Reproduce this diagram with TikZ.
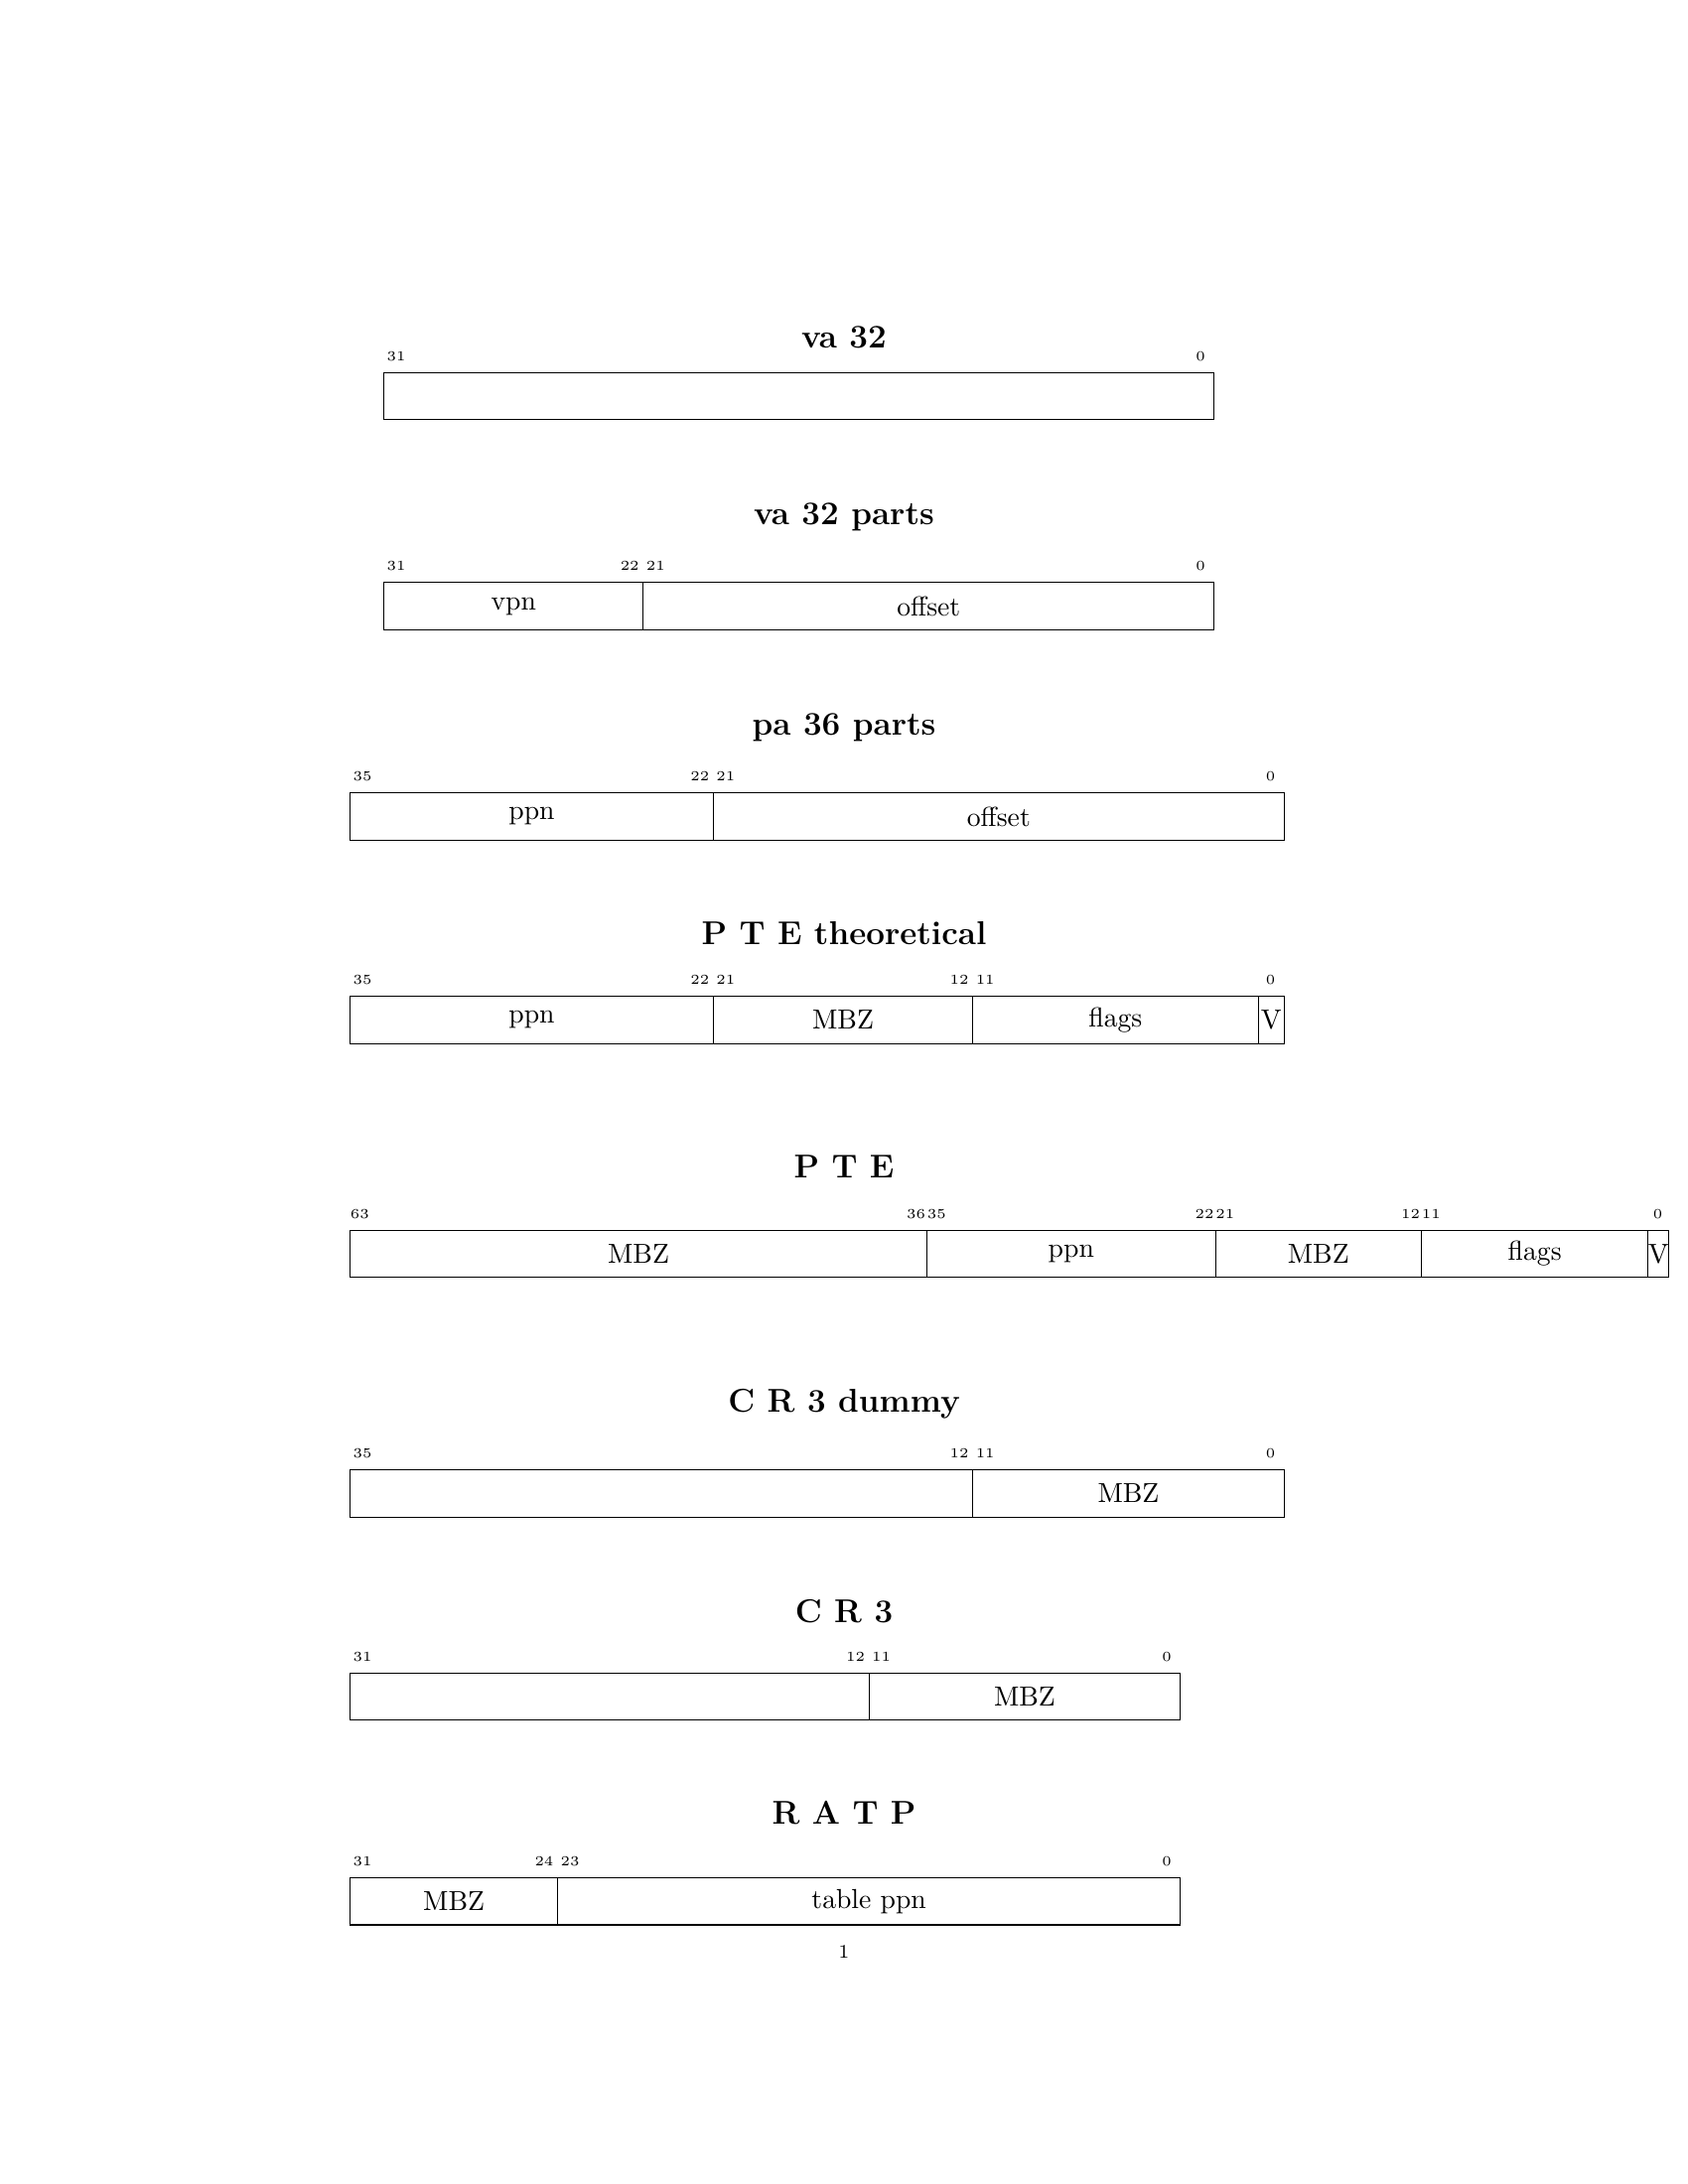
\documentclass[tikz,border=0pt]{standalone}
\usepackage{tikz}
\usetikzlibrary{positioning}
\newcommand{\px}{0.36135pt}
\tikzset{
  field/.style={draw, line width=0.4pt, inner sep=0pt, anchor=north west, minimum height=17.24pt, font=\normalsize},
  bitno/.style={anchor=base, inner sep=0pt, font=\tiny},
  regtitle/.style={anchor=base, inner sep=0pt, font=\large\bfseries},
}
% one register: name, left x, top y, top bit, bit width, fields hi/lo/text, labelled bits
\newcommand{\regrow}[7]{%
  \foreach \hi/\lo/\txt [count=\k] in {#6}{
    \node[field, minimum width={(\hi-\lo+1)*#5*\px}] (#1f\k) at ({#2+(#4-\hi)*#5},#3) {\txt};
  }
  \foreach \b in {#7}{
    \node[bitno] (#1b\b) at ({#2+(#4-\b+0.5)*#5},#3-11.5) {\b};
  }
}
\begin{document}
\begin{tikzpicture}[x=0.36135pt, y=-0.36135pt]
    \useasboundingbox (0,0) rectangle (1700,2200);
    \node[regtitle] (va) at (850,350.7) {va 32};
    \regrow{va}{386}{374.5}{31}{26.13}{31/0/{}}{31,0}
    \node[regtitle] (vaparts) at (850,528.8) {va 32 parts};
    \regrow{vap}{386}{586.3}{31}{26.13}{31/22/vpn, 21/0/offset}{31,22,21,0}
    \node[regtitle] (paparts) at (850,740.6) {pa 36 parts};
    \regrow{pap}{352}{798.1}{35}{26.13}{35/22/ppn, 21/0/offset}{35,22,21,0}
    \node[regtitle] (ptetheo) at (850,951) {P T E theoretical};
    \regrow{ptt}{352}{1002.9}{35}{26.13}{35/22/ppn, 21/12/MBZ, 11/1/flags, 0/0/V}{35,22,21,12,11,0}
    \node[regtitle] (pte) at (850,1186.6) {P T E};
    \regrow{pte}{352}{1238.5}{63}{20.75}{63/36/MBZ, 35/22/ppn, 21/12/MBZ, 11/1/flags, 0/0/V}{63,36,35,22,21,12,11,0}
    \node[regtitle] (crdummy) at (850,1422.2) {C R 3 dummy};
    \regrow{crd}{352}{1479.8}{35}{26.13}{35/12/{}, 11/0/MBZ}{35,12,11,0}
    \node[regtitle] (cr) at (850,1634) {C R 3};
    \regrow{cr}{352}{1684.5}{31}{26.13}{31/12/{}, 11/0/MBZ}{31,12,11,0}
    \node[regtitle] (ratp) at (850,1837.4) {R A T P};
    \regrow{ratp}{352}{1890.7}{31}{26.13}{31/24/MBZ, 23/0/table ppn}{31,24,23,0}
    \node[anchor=base, inner sep=0pt, font=\scriptsize] (pageno) at (850,1972) {1};  % page number
\end{tikzpicture}
\end{document}
